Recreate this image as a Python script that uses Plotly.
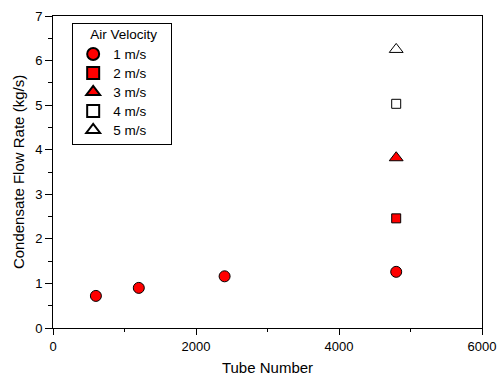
import plotly.graph_objects as go

series_names = ["1 m/s", "2 m/s", "3 m/s", "4 m/s", "5 m/s"]
x_1ms = [600, 1200, 2400, 4800]
y_1ms = [0.72, 0.90, 1.16, 1.26]
x_2ms = [4800]
y_2ms = [2.46]
x_3ms = [4800]
y_3ms = [3.82]
x_4ms = [4800]
y_4ms = [5.03]
x_5ms = [4800]
y_5ms = [6.25]

xs = [x_1ms, x_2ms, x_3ms, x_4ms, x_5ms]
ys = [y_1ms, y_2ms, y_3ms, y_4ms, y_5ms]
symbols = ["circle", "square", "triangle-up", "square", "triangle-up"]
fills = ["#ff0000", "#ff0000", "#ff0000", "white", "white"]
sizes = [11, 9, 12, 9, 12]

fig = go.Figure()
for name, x, y, s, f, sz in zip(series_names, xs, ys, symbols, fills, sizes):
    fig.add_trace(go.Scatter(x=x, y=y, mode="markers",
                             name="<span style='font-size:13.5px'>" + name + "</span>",
                             marker=dict(symbol=s, color=f, size=sz,
                                         line=dict(color="black", width=1))))

font = "Arial, Liberation Sans, sans-serif"
fig.update_layout(
    width=502, height=376,
    margin=dict(l=52.5, r=19.7, t=15.5, b=48, autoexpand=False),
    paper_bgcolor="white", plot_bgcolor="white",
    font=dict(family=font, size=13, color="black"),
    showlegend=True,
    legend=dict(title=dict(text="<span style='font-size:13.5px'>&nbsp;&nbsp;&nbsp;&nbsp;Air Velocity&nbsp;&nbsp;&nbsp;</span>",
                           font=dict(size=11.5)),
                x=0.0447, y=0.976, xanchor="left", yanchor="top",
                bordercolor="black", borderwidth=1, bgcolor="white",
                font=dict(size=12), tracegroupgap=0, itemsizing="constant"),
)
fig.update_xaxes(range=[0, 6000], tickvals=[0, 2000, 4000, 6000], automargin=False,
                 ticks="outside", ticklen=6, tickwidth=1, tickcolor="black",
                 minor=dict(tickvals=[1000, 3000, 5000], ticks="outside", ticklen=3, tickcolor="black"),
                 showline=True, linecolor="black", linewidth=1, mirror=True,
                 showgrid=False, zeroline=False, tickfont=dict(size=13),
                 title=dict(text="Tube Number", font=dict(size=15), standoff=9))
fig.update_yaxes(range=[0, 7], tickvals=list(range(8)), automargin=False,
                 ticks="outside", ticklen=7, tickwidth=1, tickcolor="black",
                 minor=dict(tickvals=[0.5 + i for i in range(7)], ticks="outside", ticklen=4, tickcolor="black"),
                 showline=True, linecolor="black", linewidth=1, mirror=True,
                 showgrid=False, zeroline=False, tickfont=dict(size=13),
                 title=dict(text="Condensate Flow Rate (kg/s)", font=dict(size=15), standoff=6))
fig.write_html("out.html", config={"displayModeBar": False},
               post_script="document.body.style.margin='0';document.body.style.overflow='hidden';")
